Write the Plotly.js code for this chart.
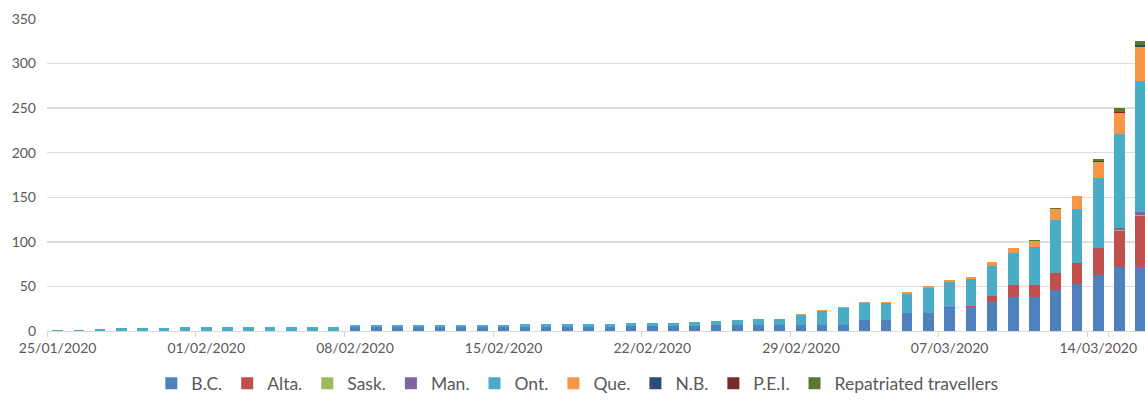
<!DOCTYPE html>
<html>
<head>
<meta charset="utf-8">
<script src="https://cdn.plot.ly/plotly-3.0.1.min.js"></script>
<style>
  html, body { margin: 0; padding: 0; background: #ffffff; }
  #chart { width: 1145px; height: 402px; }
</style>
</head>
<body>
<div id="chart"></div>
<script>
const dates = [
  "25/01/2020","26/01/2020","27/01/2020","28/01/2020","29/01/2020","30/01/2020","31/01/2020",
  "01/02/2020","02/02/2020","03/02/2020","04/02/2020","05/02/2020","06/02/2020","07/02/2020",
  "08/02/2020","09/02/2020","10/02/2020","11/02/2020","12/02/2020","13/02/2020","14/02/2020",
  "15/02/2020","16/02/2020","17/02/2020","18/02/2020","19/02/2020","20/02/2020","21/02/2020",
  "22/02/2020","23/02/2020","24/02/2020","25/02/2020","26/02/2020","27/02/2020","28/02/2020",
  "29/02/2020","01/03/2020","02/03/2020","03/03/2020","04/03/2020","05/03/2020","06/03/2020",
  "07/03/2020","08/03/2020","09/03/2020","10/03/2020","11/03/2020","12/03/2020","13/03/2020",
  "14/03/2020","15/03/2020","16/03/2020"
];
const tickLabels = ["25/01/2020","01/02/2020","08/02/2020","15/02/2020","22/02/2020","29/02/2020","07/03/2020","14/03/2020"];

const bc   = [0,0,0,0,0,0,0,0,0,0,0,0,0,0, 4,4,4,4,4,4,4,4, 5,5,5,5,5, 6,6,6, 6, 7,7,7,7,7,7,7, 12,12, 20,20, 26,27,32,38,38,46,53,63,72,72];
const alta = [0,0,0,0,0,0,0,0,0,0,0,0,0,0,0,0,0,0,0,0,0,0,0,0,0,0,0,0,0,0,0,0,0,0,0,0,0,0,0,0,0,0, 1,1,7,14,14,19,23,30,40,57];
const sask = [0,0,0,0,0,0,0,0,0,0,0,0,0,0,0,0,0,0,0,0,0,0,0,0,0,0,0,0,0,0,0,0,0,0,0,0,0,0,0,0,0,0,0,0,0,0,0,0,0,0, 1,1];
const man  = [0,0,0,0,0,0,0,0,0,0,0,0,0,0,0,0,0,0,0,0,0,0,0,0,0,0,0,0,0,0,0,0,0,0,0,0,0,0,0,0,0,0,0,0,0,0,0,0,0,0, 3,4];
const ont  = [1,1,2,3,3,3, 4,4,4,4,4,4,4,4, 3,3,3,3,3,3,3,3, 3,3,3,3,3, 3,3,3, 4, 4,5,6,7, 11,16,19, 19,19, 22,28, 28,30,34,36,42,59,61,79,105,146];
const que  = [0,0,0,0,0,0,0,0,0,0,0,0,0,0,0,0,0,0,0,0,0,0,0,0,0,0,0,0,0,0,0,0,0,0,0, 1,1,1,1,1, 2,2, 2,3,4,5,7,13,14,18,23,39];
const nb   = [0,0,0,0,0,0,0,0,0,0,0,0,0,0,0,0,0,0,0,0,0,0,0,0,0,0,0,0,0,0,0,0,0,0,0,0,0,0,0,0,0,0,0,0,0,0,0,0,0, 1,1,1];
const pei  = [0,0,0,0,0,0,0,0,0,0,0,0,0,0,0,0,0,0,0,0,0,0,0,0,0,0,0,0,0,0,0,0,0,0,0,0,0,0,0,0,0,0,0,0,0,0,0,0,0,0, 1,1];
const rep  = [0,0,0,0,0,0,0,0,0,0,0,0,0,0,0,0,0,0,0,0,0,0,0,0,0,0,0,0,0,0,0,0,0,0,0,0,0,0,0,0,0,0,0,0,0,0, 1,1,1,2,4,4];

const seriesNames = ["B.C.","Alta.","Sask.","Man.","Ont.","Que.","N.B.","P.E.I.","Repatriated travellers"];
const seriesData  = [bc, alta, sask, man, ont, que, nb, pei, rep];
const seriesColors = ["#4F81BD","#C0504D","#9BBB59","#8064A2","#4BACC6","#F79646","#2C4D75","#772C2A","#5F7530"];

const traces = seriesNames.map((name, i) => ({
  type: "bar",
  name: name,
  x: dates,
  y: seriesData[i],
  marker: { color: seriesColors[i], line: { width: 0 } },
  hoverinfo: "x+y+name"
}));

const font = "Lato, 'Open Sans', sans-serif";

const layout = {
  width: 1145,
  height: 402,
  barmode: "stack",
  bargap: 0.5,
  paper_bgcolor: "#ffffff",
  plot_bgcolor: "#ffffff",
  margin: { l: 47, r: 0, t: 18.5, b: 70.5, pad: 0 },
  font: { family: font, size: 14, color: "#595959" },
  xaxis: {
    type: "category",
    range: [-0.5, 51.2],
    tickmode: "array",
    tickvals: tickLabels,
    ticktext: tickLabels,
    tickson: "boundaries",
    ticks: "outside",
    ticklen: 5,
    tickcolor: "#d9d9d9",
    showgrid: false,
    showline: true,
    linecolor: "#d9d9d9",
    linewidth: 1,
    tickangle: 0,
    ticklabelstandoff: 4,
    tickfont: { family: font, size: 14, color: "#595959" },
    fixedrange: true
  },
  yaxis: {
    range: [0, 350],
    tickmode: "array",
    tickvals: [0,50,100,150,200,250,300,350],
    showgrid: true,
    gridcolor: "#dddddd",
    gridwidth: 1.5,
    zeroline: false,
    showline: false,
    ticks: "",
    ticklabelstandoff: 10,
    tickfont: { family: font, size: 14, color: "#595959" },
    fixedrange: true
  },
  legend: {
    orientation: "h",
    x: 0.483,
    xanchor: "center",
    y: -0.168,
    yanchor: "middle",
    traceorder: "normal",
    font: { family: font, size: 17.5, color: "#595959" },
    itemwidth: 30,
    bgcolor: "rgba(0,0,0,0)"
  },
  showlegend: true
};

Plotly.newPlot("chart", traces, layout, { displayModeBar: false, staticPlot: true });
</script>
</body>
</html>
